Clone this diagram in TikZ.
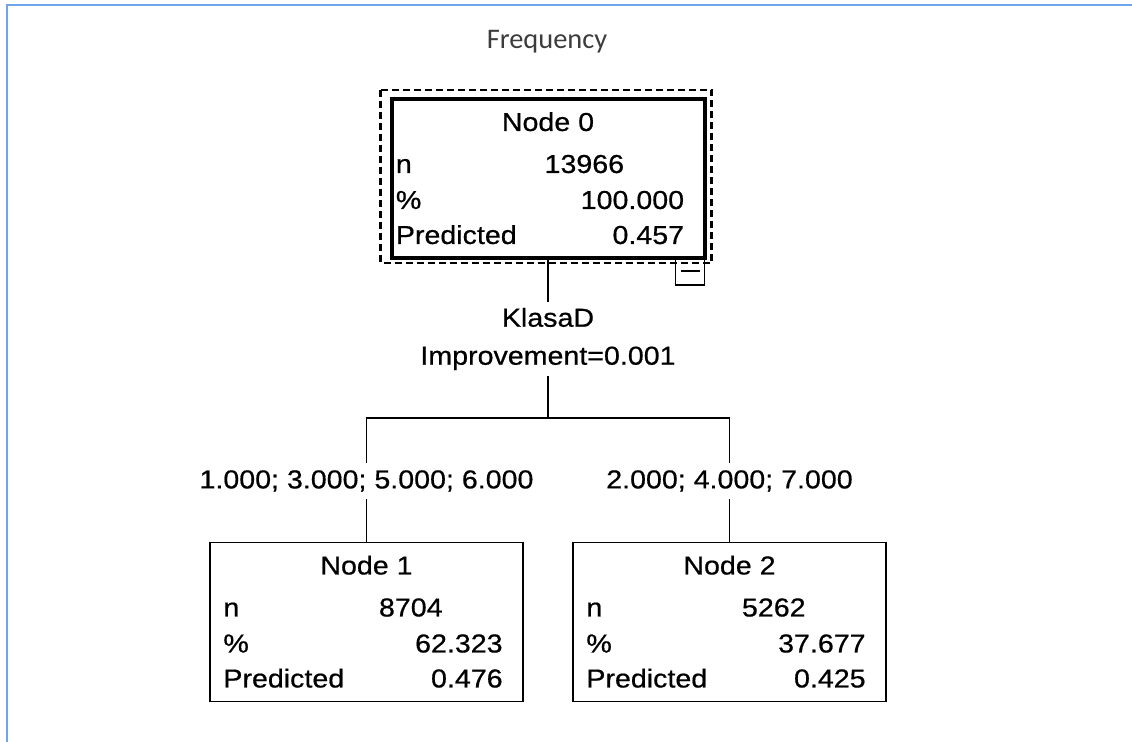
\documentclass[tikz,border=0pt]{standalone}
\usepackage{fontspec}
\setmainfont{Liberation Sans}
\newfontfamily\spssfont[FakeStretch=1.1,FakeBold=0.6]{Liberation Sans}
\newfontfamily\freqfont{Carlito}
\usepackage{xcolor}
\usetikzlibrary{calc}
\definecolor{frameblue}{RGB}{110,165,235}
\definecolor{freqgray}{RGB}{60,60,60}

\begin{document}
\begin{tikzpicture}[x=0.5pt,y=-0.5pt]

\def\boxlw{0.75pt}
\def\lblx{13}
\tikzset{
nodebox/.style={draw,line width=\boxlw,minimum width=156.5pt,minimum height=79.5pt,inner sep=0pt,outer sep=0pt},
txt/.style={inner sep=0pt,font=\spssfont\fontsize{13}{15}\selectfont},
split/.style={txt,align=center,font=\spssfont\fontsize{13}{19}\selectfont,minimum height=36.5pt},
cut/.style={txt,minimum height=18pt},
edge/.style={line width=0.75pt}
}

\useasboundingbox (0,0) rectangle (1132,742);
\draw[frameblue,line width=1pt] (1132,5) -- (6.5,5) -- (6.5,742);

\node[font=\freqfont\fontsize{14.2}{16}\selectfont,text=freqgray] (freq) at (547,42) {Frequency};

% name, x, top, title, n, %, predicted
\def\treenode#1#2#3#4#5#6#7{
\node[nodebox,anchor=north] (#1) at (#2,#3) {};
\node[txt,anchor=base] (#1-title) at ($(#1.north)+(0,32)$) {#4};
\node[txt,anchor=base west] (#1-nl) at ($(#1.north west)+(\lblx,74)$) {n};
\node[txt,anchor=base west] (#1-pl) at ($(#1.north west)+(\lblx,110)$) {\%};
\node[txt,anchor=base west] (#1-dl) at ($(#1.north west)+(\lblx,145)$) {Predicted};
\node[txt,anchor=base east] (#1-nv) at ($(#1.north east)+(-80,74)$) {#5};
\node[txt,anchor=base east] (#1-pv) at ($(#1.north east)+(-20,110)$) {#6};
\node[txt,anchor=base east] (#1-dv) at ($(#1.north east)+(-20,145)$) {#7};
}

\def\boxlw{2pt}
\def\lblx{4}
\treenode{n0}{548}{99}{Node 0}{13966}{100.000}{0.457}
\def\boxlw{0.75pt}
\def\lblx{13}
\treenode{n1}{366.5}{542.5}{Node 1}{8704}{62.323}{0.476}
\treenode{n2}{729.5}{542.5}{Node 2}{5262}{37.677}{0.425}

% selected node
\draw[line width=1.2pt,dash pattern=on 3.5pt off 2pt] ($(n0.north west)+(-11,-9)$) rectangle ($(n0.south east)+(7,5)$);
\node[draw,line width=0.6pt,minimum width=14.5pt,minimum height=13pt,inner sep=0pt,outer sep=0pt,anchor=north east] (btn) at ($(n0.south east)+(0,1)$) {};
\draw[line width=0.6pt] ($(btn.west)+(5,-1)$) -- ($(btn.east)+(-5,-1)$);

\node[split] (split) at ($(n0.south)+(0,81)$) {KlasaD\\Improvement=0.001};
\coordinate (bar) at ($(n0.south)+(0,160)$);
\node[cut] (cut1) at ($(n1.north)+(0,-61.5)$) {1.000; 3.000; 5.000; 6.000};
\node[cut] (cut2) at ($(n2.north)+(0,-61.5)$) {2.000; 4.000; 7.000};

\draw[edge] (n0.south) -- (split.north);
\draw[edge] (split.south) -- (bar) -| (cut1.north);
\draw[edge] (bar) -| (cut2.north);
\draw[edge] (cut1.south) -- (n1.north);
\draw[edge] (cut2.south) -- (n2.north);

\end{tikzpicture}
\end{document}
